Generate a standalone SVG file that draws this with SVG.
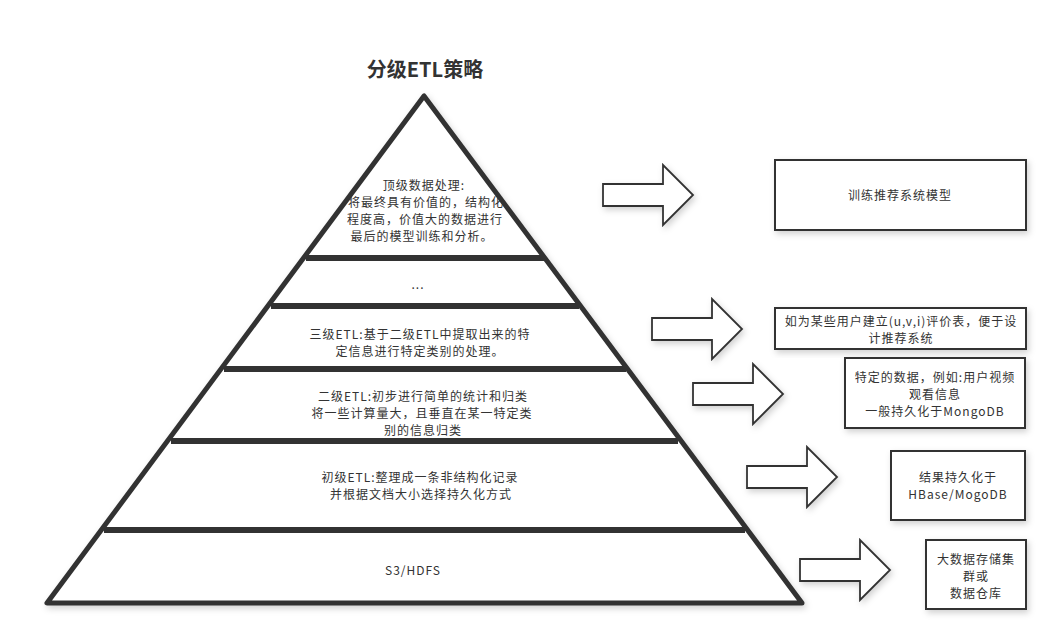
<svg xmlns="http://www.w3.org/2000/svg" width="1058" height="642" viewBox="0 0 1058 642">
<style>
  text { font-family: "Noto Sans CJK SC", "Noto Sans", sans-serif; fill: #333; font-size: 12px; letter-spacing: 1px; text-anchor: middle; }
  .title { font-size: 20px; font-weight: bold; fill: #333; letter-spacing: 0; }
  .band { stroke: #333; stroke-width: 6; stroke-linecap: butt; }
  .tri { fill: #fff; stroke: #333; stroke-width: 5; stroke-linejoin: round; }
  .box { fill: #fff; stroke: #333; stroke-width: 2; }
  .arrow { fill: #fff; stroke: #333; stroke-width: 1.8; stroke-linejoin: miter; }
</style>
<defs>
  <filter id="sh" x="-10%" y="-10%" width="130%" height="130%">
    <feDropShadow dx="2" dy="3" stdDeviation="3" flood-color="#000" flood-opacity="0.18"/>
  </filter>
</defs>
<rect width="1058" height="642" fill="#fff"/>
<text class="title" x="425" y="77">分级ETL策略</text>

<g id="pyramid" filter="url(#sh)">
  <polygon class="tri" points="424,96 47,603 802,603"/>
  <line class="band" x1="306" y1="258" x2="545" y2="258"/>
  <line class="band" x1="271" y1="306" x2="579" y2="306"/>
  <line class="band" x1="224" y1="369" x2="626" y2="369"/>
  <line class="band" x1="171" y1="441" x2="678" y2="441"/>
  <line class="band" x1="104" y1="530" x2="745" y2="530"/>
</g>

<g id="layer-top">
  <text x="424" y="190">顶级数据处理:</text>
  <text x="426" y="207">将最终具有价值的，结构化</text>
  <text x="425" y="224">程度高，价值大的数据进行</text>
  <text x="422" y="241">最后的模型训练和分析。</text>
</g>
<g id="layer-dots"><text x="418" y="289">...</text></g>
<g id="layer-etl3">
  <text x="420" y="339">三级ETL:基于二级ETL中提取出来的特</text>
  <text x="420" y="356">定信息进行特定类别的处理。</text>
</g>
<g id="layer-etl2">
  <text x="423" y="401">二级ETL:初步进行简单的统计和归类</text>
  <text x="422" y="418">将一些计算量大，且垂直在某一特定类</text>
  <text x="423" y="435">别的信息归类</text>
</g>
<g id="layer-etl1">
  <text x="420" y="482">初级ETL:整理成一条非结构化记录</text>
  <text x="421" y="499">并根据文档大小选择持久化方式</text>
</g>
<g id="layer-storage"><text x="413" y="575">S3/HDFS</text></g>

<g id="connectors" filter="url(#sh)">
  <polygon class="arrow" points="603,184 663,184 663,165 693,195 663,225 663,206 603,206"/>
  <polygon class="arrow" points="652,318 712,318 712,299 742,329 712,359 712,340 652,340"/>
  <polygon class="arrow" points="693,383 753,383 753,364 783,394 753,424 753,405 693,405"/>
  <polygon class="arrow" points="747,466 807,466 807,447 837,477 807,507 807,488 747,488"/>
  <polygon class="arrow" points="800,559 860,559 860,540 890,570 860,600 860,581 800,581"/>
</g>

<g id="box-model">
  <rect class="box" x="775" y="160" width="251" height="70" filter="url(#sh)"/>
  <text x="900" y="200">训练推荐系统模型</text>
</g>
<g id="box-uvi">
  <rect class="box" x="775" y="308" width="251" height="41" filter="url(#sh)"/>
  <text x="901" y="326">如为某些用户建立(u,v,i)评价表，便于设</text>
  <text x="901" y="343">计推荐系统</text>
</g>
<g id="box-mongo">
  <rect class="box" x="845" y="358" width="180" height="70" filter="url(#sh)"/>
  <text x="935" y="382">特定的数据，例如:用户视频</text>
  <text x="935" y="399">观看信息</text>
  <text x="935" y="416">一般持久化于MongoDB</text>
</g>
<g id="box-hbase">
  <rect class="box" x="891" y="451" width="134" height="69" filter="url(#sh)"/>
  <text x="958" y="482">结果持久化于</text>
  <text x="958" y="499">HBase/MogoDB</text>
</g>
<g id="box-warehouse">
  <rect class="box" x="926" y="540" width="100" height="69" filter="url(#sh)"/>
  <text x="976" y="564">大数据存储集</text>
  <text x="976" y="581">群或</text>
  <text x="976" y="598">数据仓库</text>
</g>
</svg>
